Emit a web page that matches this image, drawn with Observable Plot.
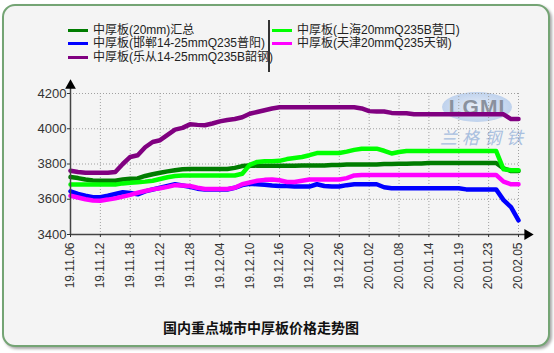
<!DOCTYPE html>
<html><head><meta charset="utf-8">
<script src="https://cdn.jsdelivr.net/npm/d3@7"></script>
<script src="https://cdn.jsdelivr.net/npm/@observablehq/plot@0.6"></script>
<style>
body{margin:0;background:#fff;font-family:"Liberation Sans","Noto Sans CJK SC",sans-serif;}
#wrap{position:relative;width:554px;height:353px;overflow:hidden;}
#frame{position:absolute;left:2px;top:4px;width:544px;height:339px;border:2px solid #74a474;border-radius:13px;background:#f4f4f4;box-shadow:2px 2px 3px rgba(0,0,0,.35);}
.leg{position:absolute;font-size:12px;line-height:13px;color:#222;white-space:nowrap;font-family:"Liberation Sans","Noto Sans CJK SC",sans-serif;}
.sw{position:absolute;height:3px;width:20px;}
#sep{position:absolute;left:268px;top:20px;width:1.5px;height:52px;background:#333;}
#chart{position:absolute;left:0;top:75px;}
#title{position:absolute;left:0;width:522px;text-align:center;top:317px;font-size:14px;font-weight:bold;color:#111;font-family:"Noto Sans CJK SC",sans-serif;}
#logo{position:absolute;left:442px;top:92px;width:70px;height:30px;border-radius:50%;background:radial-gradient(ellipse at center,#e8eef8 0%,#bcd0ec 75%,#a3bde3 100%);text-align:center;font:bold 21px/30px "Liberation Sans",sans-serif;color:#8a919e;letter-spacing:1px;}
#logo2{position:absolute;left:440px;top:124px;font-size:17px;color:#a9bfdf;letter-spacing:5px;font-style:italic;font-family:"Noto Sans CJK SC",sans-serif;}
</style></head>
<body>
<div id="wrap">
  <div id="frame"></div>
  <div id="logo">LGMI</div>
  <div id="logo2">兰格钢铁</div>
  <div id="legend"></div>
  <div id="sep"></div>
  <div id="chart"></div>
  <div id="title">国内重点城市中厚板价格走势图</div>
</div>
<script>
const dates = ["19.11.06","19.11.07","19.11.08","19.11.11","19.11.12","19.11.13","19.11.14","19.11.15","19.11.18","19.11.19",
"19.11.20","19.11.21","19.11.22","19.11.25","19.11.26","19.11.27","19.11.28","19.11.29","19.12.02","19.12.03",
"19.12.04","19.12.05","19.12.06","19.12.09","19.12.10","19.12.11","19.12.12","19.12.13","19.12.16","19.12.17",
"19.12.18","19.12.19","19.12.20","19.12.23","19.12.24","19.12.25","19.12.26","19.12.27","19.12.30","19.12.31",
"20.01.02","20.01.03","20.01.06","20.01.07","20.01.08","20.01.09","20.01.10","20.01.13","20.01.14","20.01.15",
"20.01.16","20.01.17","20.01.19","20.01.20","20.01.21","20.01.22","20.01.23","20.01.24","20.02.03","20.02.04",
"20.02.05"];
const tickLabels = ["19.11.06","19.11.12","19.11.18","19.11.22","19.11.28","19.12.04","19.12.10","19.12.16","19.12.20","19.12.26","20.01.02","20.01.08","20.01.14","20.01.19","20.01.23","20.02.05"];
const yTicks = [3400,3600,3800,4000,4200];
const seriesNames = ["中厚板(20mm)汇总","中厚板(邯郸14-25mmQ235普阳)","中厚板(乐从14-25mmQ235B韶钢)","中厚板(上海20mmQ235B营口)","中厚板(天津20mmQ235天钢)"];
const seriesColors = ["#007c00","#0000ff","#800080","#00ff00","#ff00ff"];
const huizong = [3726,3720,3712,3707,3705,3705,3705,3712,3716,3718,
3732,3742,3750,3758,3765,3770,3772,3772,3772,3772,
3772,3772,3778,3788,3792,3790,3790,3790,3790,3790,
3790,3792,3792,3792,3792,3795,3795,3797,3797,3797,
3797,3797,3800,3800,3802,3802,3803,3803,3805,3805,
3805,3806,3806,3806,3806,3806,3806,3806,3775,3760,
3760];
const handan = [3645,3630,3620,3612,3612,3620,3630,3640,3635,3628,
3645,3655,3665,3675,3685,3678,3670,3660,3655,3655,
3655,3655,3665,3680,3688,3685,3682,3678,3675,3675,
3672,3672,3672,3685,3675,3672,3672,3680,3685,3685,
3685,3685,3668,3662,3662,3662,3662,3662,3662,3662,
3662,3662,3662,3656,3656,3656,3656,3656,3595,3555,
3480];
const lecong = [3762,3755,3750,3750,3750,3750,3755,3800,3840,3850,
3895,3925,3935,3965,3995,4005,4025,4022,4020,4030,
4042,4050,4055,4065,4085,4095,4105,4115,4122,4122,
4122,4122,4122,4122,4122,4122,4122,4122,4122,4115,
4100,4098,4098,4090,4088,4088,4082,4082,4082,4082,
4082,4082,4082,4082,4082,4082,4082,4082,4082,4055,
4055];
const shanghai = [3683,3683,3683,3683,3683,3683,3683,3690,3693,3697,
3700,3705,3715,3725,3732,3735,3735,3735,3735,3735,
3735,3735,3735,3745,3795,3812,3815,3815,3818,3828,
3834,3840,3850,3862,3862,3862,3862,3870,3880,3887,
3887,3887,3875,3860,3868,3874,3874,3874,3874,3874,
3874,3874,3874,3874,3874,3874,3874,3874,3770,3765,
3765];
const tianjin = [3620,3610,3600,3593,3592,3598,3605,3615,3625,3637,
3647,3656,3662,3670,3680,3678,3675,3665,3658,3658,
3658,3658,3665,3685,3695,3705,3710,3712,3708,3698,
3698,3705,3712,3712,3712,3712,3712,3720,3735,3738,
3738,3738,3738,3738,3738,3738,3738,3738,3738,3738,
3738,3738,3738,3738,3738,3738,3738,3738,3700,3685,
3685];

const allSeries = [huizong, handan, lecong, shanghai, tianjin];
const rows = allSeries.flatMap((vals, k) => vals.map((v, i) => ({i, v, name: seriesNames[k]})));
const tickIdx = tickLabels.map(l => dates.indexOf(l));
const last = dates.length - 1;

// legend (HTML)
const legend = document.getElementById("legend");
const legPos = [[68,24],[68,37],[68,51],[272,24],[272,37]];
seriesNames.forEach((n, k) => {
  const [lx, ly] = legPos[k];
  const sw = document.createElement("div");
  sw.className = "sw"; sw.style.left = lx + "px"; sw.style.top = (ly + 5) + "px"; sw.style.background = seriesColors[k];
  legend.appendChild(sw);
  const t = document.createElement("div");
  t.className = "leg"; t.style.left = (lx + 25) + "px"; t.style.top = ly + "px"; t.textContent = n;
  legend.appendChild(t);
});

const yMin = yTicks[0], yMax = yTicks[yTicks.length - 1];
const yArrow = yMax + 45;
const xArrow = last + 1.2;

const chart = Plot.plot({
  width: 554, height: 230,
  marginLeft: 70, marginRight: 36, marginTop: 18, marginBottom: 71,
  style: {background: "transparent", fontFamily: "'Liberation Sans', sans-serif", fontSize: "12px", color: "#333", overflow: "visible"},
  x: {type: "linear", domain: [0, last]},
  y: {domain: [yMin, yMax]},
  color: {domain: seriesNames, range: seriesColors},
  marks: [
    Plot.gridY(yTicks, {stroke: "#a0a0a0", strokeOpacity: 1, strokeDasharray: "1,2"}),
    Plot.gridX(tickIdx, {stroke: "#a0a0a0", strokeOpacity: 1, strokeDasharray: "1,2"}),
    Plot.line(rows, {x: "i", y: "v", z: "name", stroke: "name", strokeWidth: 4.5, strokeLinejoin: "round", strokeLinecap: "round"}),
    Plot.ruleX([0], {y1: yMin, y2: yArrow, stroke: "#444", strokeWidth: 1.5}),
    Plot.ruleY([yMin], {x1: 0, x2: xArrow, stroke: "#444", strokeWidth: 1.5}),
    Plot.dot([{x: 0, y: yArrow}], {x: "x", y: "y", symbol: "triangle", r: 4, fill: "#000", stroke: null}),
    Plot.dot([{x: xArrow, y: yMin}], {x: "x", y: "y", symbol: "triangle", r: 4, fill: "#000", stroke: null, rotate: 90}),
    Plot.axisY(yTicks, {tickSize: 3, tickPadding: 1, fontSize: 13, label: null, fill: "#333", tickFormat: d => String(d)}),
    Plot.axisX(tickIdx, {tickFormat: i => dates[i], tickRotate: -90, tickSize: 3, tickPadding: 5, fontSize: 12, label: null, fill: "#333"})
  ]
});
document.getElementById("chart").appendChild(chart);
</script>
</body></html>
